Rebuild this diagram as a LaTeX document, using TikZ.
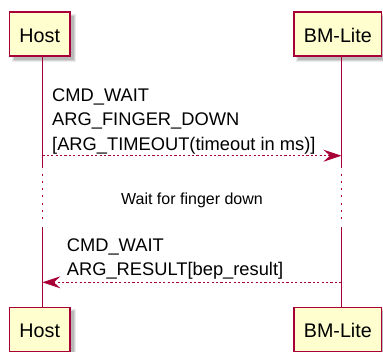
\documentclass[tikz,border=0pt]{standalone}
\usepackage{fontspec}
\setmainfont{Liberation Sans}
\usetikzlibrary{arrows.meta}
\definecolor{umlred}{HTML}{A80036}
\definecolor{umlfill}{HTML}{FEFECE}
\tikzset{
  x=1pt, y=-1pt,
  actorbox/.style={draw=umlred, fill=umlfill, line width=1.2pt, rectangle, inner sep=0pt,
    minimum height=44pt, text height=16.1pt, text depth=0pt,
    font=\fontsize{19.7}{22}\selectfont},
  lifeline/.style={draw=umlred, line width=1.2pt},
  delayline/.style={draw=umlred, line width=1.2pt, dash pattern=on 2pt off 5.3pt},
  msg/.style={draw=umlred, line width=1.1pt, dash pattern=on 2.2pt off 2.2pt,
    -{Stealth[length=18pt, width=12pt, inset=6.5pt]}},
  msgtext/.style={anchor=base west, inner sep=0pt, font=\fontsize{18.3}{24.5}\selectfont},
  delaytext/.style={anchor=base, inner sep=0pt, font=\fontsize{16}{18}\selectfont},
}
\newcommand{\umlshadow}[4]{%
  \fill[black, opacity=0.08] (#1+2,#2+2) rectangle (#3+6,#4+6);
  \fill[black, opacity=0.10] (#1+3,#2+3) rectangle (#3+5,#4+5);
  \fill[black, opacity=0.12] (#1+4,#2+4) rectangle (#3+4,#4+4);
}
\begin{document}
\begin{tikzpicture}
\useasboundingbox (0,0) rectangle (383,351);
\path[clip] (0,0) rectangle (383,351);

% shadows
\umlshadow{9.5}{12}{70}{56}
\umlshadow{294}{12}{381.7}{56}
\umlshadow{9.5}{307.3}{70}{351.3}
\umlshadow{294}{307.3}{381.7}{351.3}

% participant boxes
\node[actorbox, minimum width=60.5pt] (hostTop) at (39.75,34) {Host};
\node[actorbox, minimum width=87.7pt] (bmTop) at (337.85,34) {BM-Lite};
\node[actorbox, minimum width=60.5pt] (hostBot) at (39.75,329.3) {Host};
\node[actorbox, minimum width=87.7pt] (bmBot) at (337.85,329.3) {BM-Lite};

% lifeline coordinates
\coordinate (h0) at (42.4,56.6);
\coordinate (h1) at (42.4,168);
\coordinate (h2) at (42.4,173.5);
\coordinate (h3) at (42.4,223);
\coordinate (h4) at (42.4,227.3);
\coordinate (h5) at (42.4,306.7);
\coordinate (b0) at (341.4,56.6);
\coordinate (b1) at (341.4,168);
\coordinate (b2) at (341.4,173.5);
\coordinate (b3) at (341.4,223);
\coordinate (b4) at (341.4,227.3);
\coordinate (b5) at (341.4,306.7);

\draw[lifeline] (h0) -- (h1);
\draw[delayline] (h2) -- (h3);
\draw[lifeline] (h4) -- (h5);
\draw[lifeline] (b0) -- (b1);
\draw[delayline] (b2) -- (b3);
\draw[lifeline] (b4) -- (b5);

% message 1
\coordinate (m1s) at (42.4,155.7);
\coordinate (m1e) at (341.4,155.7);
\draw[msg] (m1s) -- (m1e);
\node[msgtext] (m1a) at (52,101.3) {CMD\_WAIT};
\node[msgtext] (m1b) at (52,125.8) {ARG\_FINGER\_DOWN};
\node[msgtext] (m1c) at (52,150.3) {[ARG\_TIMEOUT(timeout in ms)]};

% delay
\node[delaytext] (dly) at (192,204.3) {Wait for finger down};

% message 2
\coordinate (m2s) at (341.4,282.3);
\coordinate (m2e) at (42.4,282.3);
\draw[msg] (m2s) -- (m2e);
\node[msgtext] (m2a) at (66.7,251.4) {CMD\_WAIT};
\node[msgtext] (m2b) at (66.7,275.9) {ARG\_RESULT[bep\_result]};
\end{tikzpicture}
\end{document}
